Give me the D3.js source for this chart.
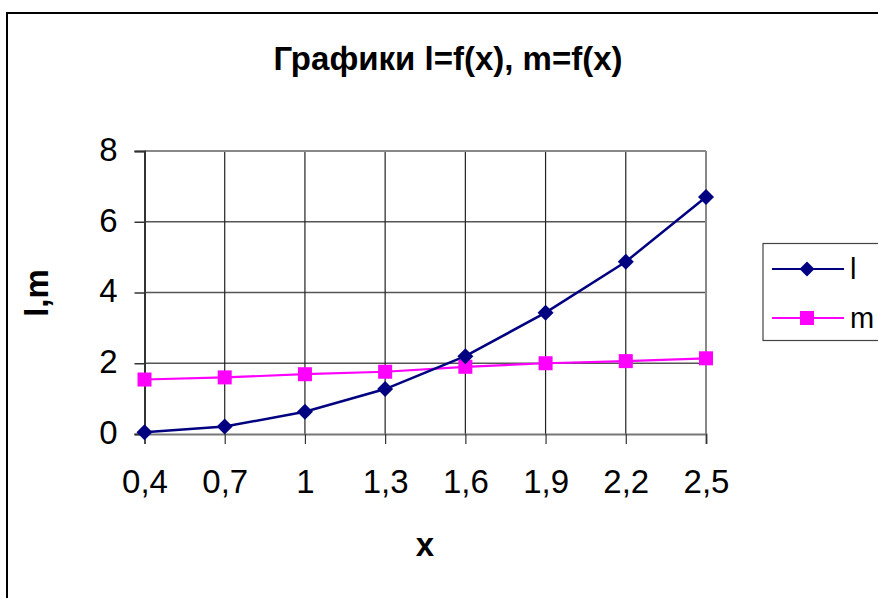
<!DOCTYPE html>
<html><head><meta charset="utf-8">
<script src="https://cdn.jsdelivr.net/npm/d3@7"></script>
<style>body{margin:0;background:#fff}svg{display:block}text{font-family:"Liberation Sans",Arial,sans-serif}</style>
</head><body>
<svg id="c" width="878" height="598"></svg>
<script>
const categories = ["0,4","0,7","1","1,3","1,6","1,9","2,2","2,5"];
const lValues = [0.05,0.21,0.63,1.27,2.2,3.43,4.87,6.70];
const mValues = [1.54,1.60,1.69,1.76,1.90,2.00,2.06,2.14];
const yTicks = [0,2,4,6,8];
const title = "Графики l=f(x), m=f(x)";
const seriesNames = ["l","m"];

const svg = d3.select("#c");
const L=144.5, R=706, T=151, B=434;
const x = d3.scalePoint().domain(categories).range([L,R]);
const y = d3.scaleLinear().domain([0,8]).range([B,T]);

// outer frame
svg.append("path").attr("d","M7,600 L7,13 L880,13").attr("fill","none").attr("stroke","#000").attr("stroke-width",2);

// title
svg.append("text").attr("x",448).attr("y",70).attr("text-anchor","middle")
  .style("font-size","33px").attr("font-weight","bold").text(title);

// horizontal gridlines
svg.append("g").selectAll("line").data(yTicks.filter(v=>v>0&&v<8)).join("line")
  .attr("x1",L).attr("x2",R).attr("y1",d=>y(d)).attr("y2",d=>y(d))
  .attr("stroke","#555").attr("stroke-width",1.5);
// vertical gridlines
svg.append("g").selectAll("line").data(categories.slice(1,-1)).join("line")
  .attr("x1",d=>x(d)).attr("x2",d=>x(d)).attr("y1",T).attr("y2",B)
  .attr("stroke","#222").attr("stroke-width",1.2);
// plot border top/right
svg.append("line").attr("x1",L).attr("x2",R).attr("y1",T).attr("y2",T).attr("stroke","#888").attr("stroke-width",2);
svg.append("line").attr("x1",R).attr("x2",R).attr("y1",T).attr("y2",B).attr("stroke","#888").attr("stroke-width",2);

// axes
const yAxis = d3.axisLeft(y).tickValues(yTicks).tickSize(10).tickPadding(17).tickFormat(d3.format("d"));
const gy = svg.append("g").attr("transform",`translate(${L},0)`).call(yAxis);
gy.select(".domain").attr("stroke","#333").attr("stroke-width",2);
gy.selectAll(".tick line").attr("stroke","#333").attr("stroke-width",1.5);
gy.selectAll(".tick text").style("font-size","33px").attr("fill","#000").attr("dy","0.28em");

const xAxis = d3.axisBottom(x).tickSize(10).tickPadding(26);
const gx = svg.append("g").attr("transform",`translate(0,${B})`).call(xAxis);
gx.select(".domain").attr("stroke","#777").attr("stroke-width",2);
gx.selectAll(".tick line").attr("stroke","#333").attr("stroke-width",1.2);
gx.selectAll(".tick text").style("font-size","33px").attr("fill","#000");

// axis labels
svg.append("text").attr("x",425).attr("y",556).attr("text-anchor","middle")
  .style("font-size","33px").attr("font-weight","bold").text("x");
svg.append("text").attr("transform","translate(48,293) rotate(-90)").attr("text-anchor","middle")
  .style("font-size","33px").attr("font-weight","bold").text("l,m");

// series
const line = d3.line().x((d,i)=>x(categories[i])).y(d=>y(d));
const diamond = (s)=>`M0,${-s} L${s},0 L0,${s} L${-s},0 Z`;

svg.append("path").datum(mValues).attr("d",line).attr("fill","none").attr("stroke","#ff00ff").attr("stroke-width",2.2);
svg.append("path").datum(lValues).attr("d",line).attr("fill","none").attr("stroke","#000080").attr("stroke-width",2.5);

svg.append("g").selectAll("rect").data(mValues).join("rect")
  .attr("x",(d,i)=>x(categories[i])-7).attr("y",d=>y(d)-7).attr("width",14).attr("height",14)
  .attr("fill","#ff00ff");
svg.append("g").selectAll("path").data(lValues).join("path")
  .attr("transform",(d,i)=>`translate(${x(categories[i])},${y(d)})`).attr("d",diamond(8))
  .attr("fill","#000080");

// legend
svg.append("rect").attr("x",763).attr("y",243.5).attr("width",130).attr("height",97)
  .attr("fill","#fff").attr("stroke","#444").attr("stroke-width",1.2);
const lg = [{name:seriesNames[0],color:"#000080",y:269,shape:"d"},{name:seriesNames[1],color:"#ff00ff",y:318,shape:"s"}];
lg.forEach(e=>{
  svg.append("line").attr("x1",772).attr("x2",844).attr("y1",e.y).attr("y2",e.y).attr("stroke",e.color).attr("stroke-width",2.2);
  if(e.shape==="d") svg.append("path").attr("transform",`translate(807,${e.y})`).attr("d",diamond(7.5)).attr("fill",e.color);
  else svg.append("rect").attr("x",800).attr("y",e.y-7).attr("width",14).attr("height",14).attr("fill",e.color);
  svg.append("text").attr("x",850).attr("y",e.y+10).style("font-size","29px").text(e.name);
});
</script>
</body></html>
